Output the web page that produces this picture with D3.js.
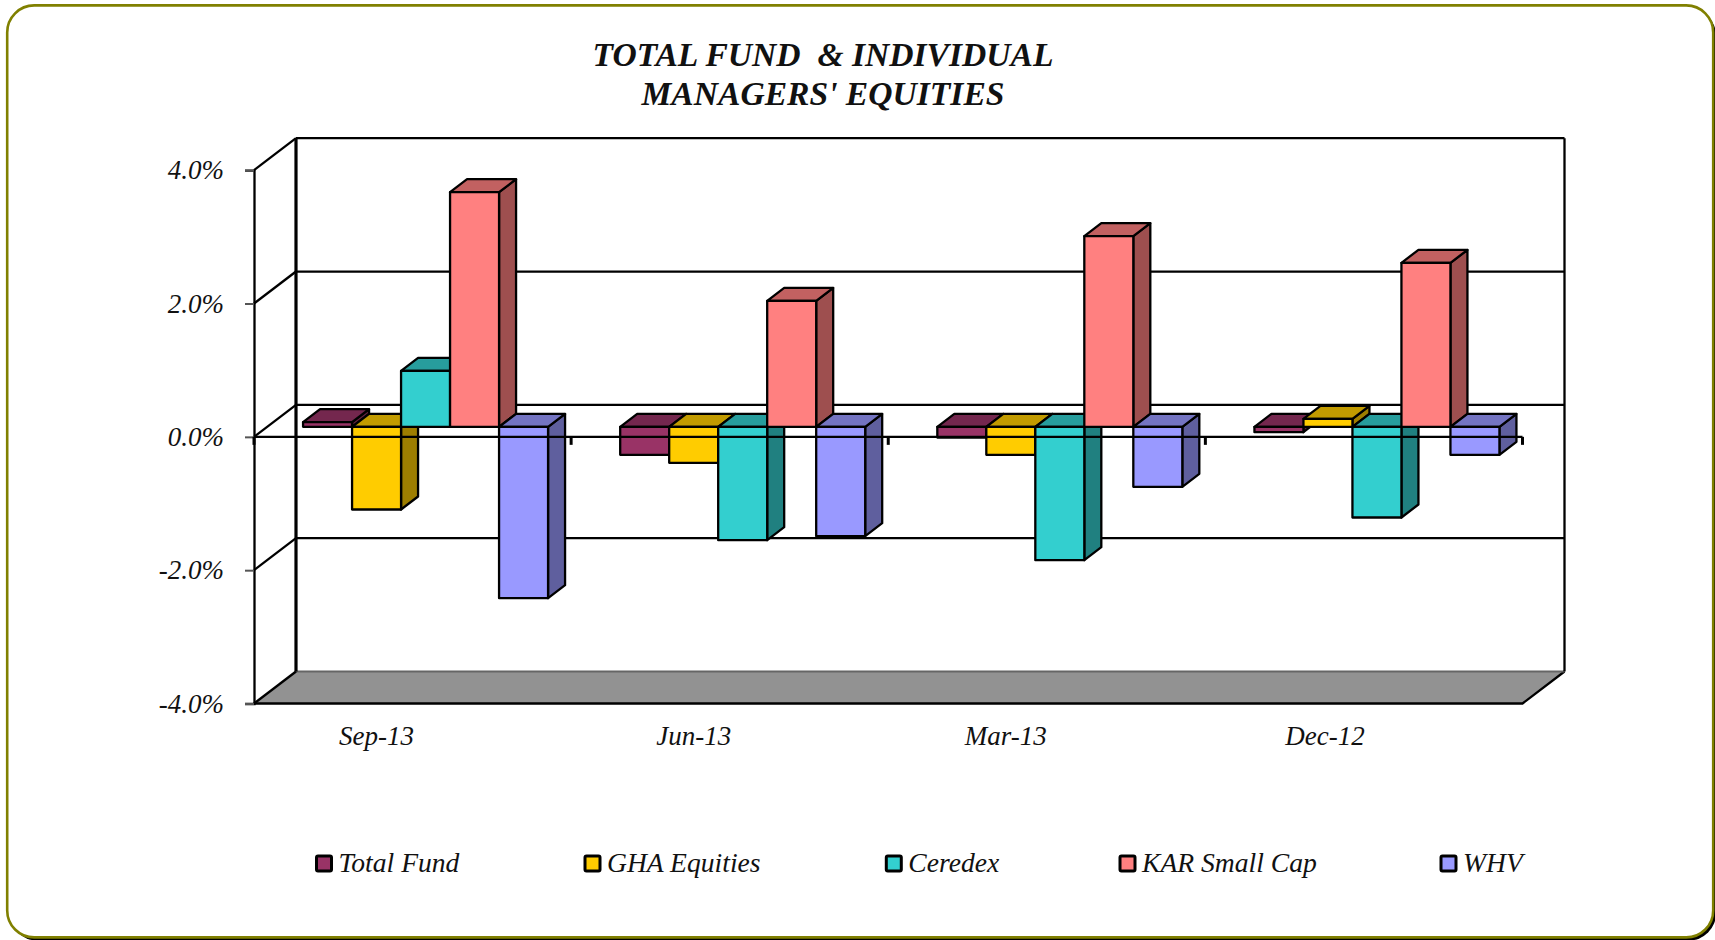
<!DOCTYPE html>
<html>
<head>
<meta charset="utf-8">
<script src="https://cdn.jsdelivr.net/npm/d3@7/dist/d3.min.js"></script>
<style>
html,body{margin:0;padding:0;background:#fff;overflow:hidden}
text{font-family:"Liberation Serif",serif;font-style:italic;fill:#111}
</style>
</head>
<body>
<svg id="c" width="1715" height="940"></svg>
<script>
const titleLines = ["TOTAL FUND  & INDIVIDUAL", "MANAGERS' EQUITIES"];
const categories = ["Sep-13", "Jun-13", "Mar-13", "Dec-12"];
const seriesNames = ["Total Fund", "GHA Equities", "Ceredex", "KAR Small Cap", "WHV"];
const totalFund = [0.07, -0.42, -0.16, -0.08];
const ghaEquities = [-1.24, -0.54, -0.42, 0.12];
const ceredex = [0.84, -1.70, -2.00, -1.36];
const karSmallCap = [3.52, 1.89, 2.86, 2.46];
const whv = [-2.57, -1.64, -0.90, -0.42];
const seriesValues = [totalFund, ghaEquities, ceredex, karSmallCap, whv];
const yTicks = [4, 2, 0, -2, -4];
const colors = ["#993366", "#FFCC00", "#33CFCF", "#FF8080", "#9999FF"];

const svg = d3.select("#c");
const L = 254, R = 1522.5, T = 170.2, B = 703.5;
const wallDx = 42, wallDy = -32;      // chart depth
const barOx = 13, barOy = -10;        // bar position inside depth
const barDx = 17, barDy = -13;        // bar depth
const sw = 2.3;

const y = d3.scaleLinear().domain([-4, 4]).range([B, T]);
const x0 = d3.scaleBand().domain(categories).range([L, R]);
const x1 = d3.scaleBand().domain(seriesNames).range([0, 245]);
const bandPad = (x0.bandwidth() - 245) / 2;

const poly = pts => "M" + pts.map(p => p.join(",")).join("L") + "Z";
const darker = (c, k) => { const r = d3.rgb(c); return d3.rgb(r.r * k, r.g * k, r.b * k).formatHex(); };

// outer frame
svg.append("rect").attr("x", 10).attr("y", 8.5).attr("width", 1706).attr("height", 932).attr("rx", 27).attr("fill", "#000");
svg.append("rect").attr("x", 7.2).attr("y", 5.4).attr("width", 1706).attr("height", 932).attr("rx", 27)
  .attr("fill", "#fff").attr("stroke", "#808000").attr("stroke-width", 2.6);

// title
svg.append("g").selectAll("text").data(titleLines).join("text")
  .attr("x", 823).attr("y", (d, i) => 66 + i * 39)
  .attr("text-anchor", "middle").attr("font-weight", "bold").attr("font-size", 33.6)
  .style("white-space", "pre").text(d => d);

// floor
svg.append("path").attr("fill", "#929292").attr("stroke", "none")
  .attr("d", poly([[L, B], [R, B], [R + wallDx, B + wallDy], [L + wallDx, B + wallDy]]));
svg.append("path").attr("fill", "none").attr("stroke", "#000").attr("stroke-width", sw)
  .attr("d", `M${L},${B}L${R},${B}L${R + wallDx},${B + wallDy}`);
svg.append("line").attr("x1", L + wallDx).attr("x2", R + wallDx).attr("y1", B + wallDy).attr("y2", B + wallDy)
  .attr("stroke", "#666").attr("stroke-width", 2);

// walls and gridlines
const grid = svg.append("g").attr("fill", "none").attr("stroke", "#000").attr("stroke-width", sw);
yTicks.forEach(t => {
  const py = y(t);
  grid.append("line").attr("x1", L).attr("y1", py).attr("x2", L + wallDx).attr("y2", py + wallDy);
  if (t !== -4) grid.append("line").attr("x1", L + wallDx).attr("y1", py + wallDy).attr("x2", R + wallDx).attr("y2", py + wallDy);
});
grid.append("line").attr("x1", L + wallDx).attr("x2", L + wallDx).attr("y1", T + wallDy).attr("y2", B + wallDy).attr("stroke-width", 3.2);
grid.append("line").attr("x1", R + wallDx).attr("x2", R + wallDx).attr("y1", T + wallDy).attr("y2", B + wallDy);

// y axis
const yAxis = svg.append("g").attr("transform", `translate(${L},0)`)
  .call(d3.axisLeft(y).tickValues(yTicks).tickSize(9).tickPadding(21).tickFormat(d => d.toFixed(1) + "%"));
yAxis.selectAll("path").attr("stroke", "#000").attr("stroke-width", sw);
yAxis.selectAll("line").attr("stroke", "#555").attr("stroke-width", 2);
yAxis.selectAll("text").attr("font-size", 27).attr("fill", "#111");
yAxis.attr("font-family", null);

// bars
const barsG = svg.append("g");
categories.forEach((cat, ci) => {
  seriesNames.forEach((s, si) => {
    const v = seriesValues[si][ci];
    const xl = x0(cat) + bandPad + x1(s) + barOx;
    const xr = xl + x1.bandwidth();
    const y0 = y(0) + barOy, yv = y(v) + barOy;
    const top = Math.min(y0, yv), bot = Math.max(y0, yv);
    const g = barsG.append("g").attr("stroke", "#000").attr("stroke-width", sw).attr("stroke-linejoin", "round");
    g.append("path").attr("fill", darker(colors[si], 0.62))
      .attr("d", poly([[xr, top], [xr + barDx, top + barDy], [xr + barDx, bot + barDy], [xr, bot]]));
    g.append("path").attr("fill", darker(colors[si], 0.76))
      .attr("d", poly([[xl, top], [xr, top], [xr + barDx, top + barDy], [xl + barDx, top + barDy]]));
    g.append("rect").attr("x", xl).attr("y", top).attr("width", x1.bandwidth()).attr("height", bot - top)
      .attr("fill", colors[si]);
  });
});

// category axis at zero, on top of bars
const xAxis = svg.append("g");
xAxis.append("line").attr("x1", L).attr("x2", R).attr("y1", y(0)).attr("y2", y(0)).attr("stroke", "#000").attr("stroke-width", sw);
d3.range(categories.length + 1).forEach(i => {
  const px = L + i * x0.step();
  xAxis.append("line").attr("x1", px).attr("x2", px).attr("y1", y(0)).attr("y2", y(0) + 8).attr("stroke", "#000").attr("stroke-width", 3);
});
const labelNudge = [0, 0, -5, -3];
xAxis.selectAll("text").data(categories).join("text")
  .attr("x", (d, i) => x0(d) + x0.bandwidth() / 2 - 36 + labelNudge[i])
  .attr("y", 745).attr("text-anchor", "middle").attr("font-size", 27).text(d => d);

// legend
const legendX = [315.5, 584, 885.3, 1119, 1440];
const legend = svg.append("g").selectAll("g").data(seriesNames).join("g")
  .attr("transform", (d, i) => `translate(${legendX[i]},855)`);
legend.append("rect").attr("x", 1).attr("y", 1).attr("width", 15).attr("height", 15).attr("rx", 1.5)
  .attr("fill", (d, i) => colors[i]).attr("stroke", "#000").attr("stroke-width", 3);
legend.append("text").attr("x", 23).attr("y", 17).attr("font-size", 27.6).text(d => d);
</script>
</body>
</html>
